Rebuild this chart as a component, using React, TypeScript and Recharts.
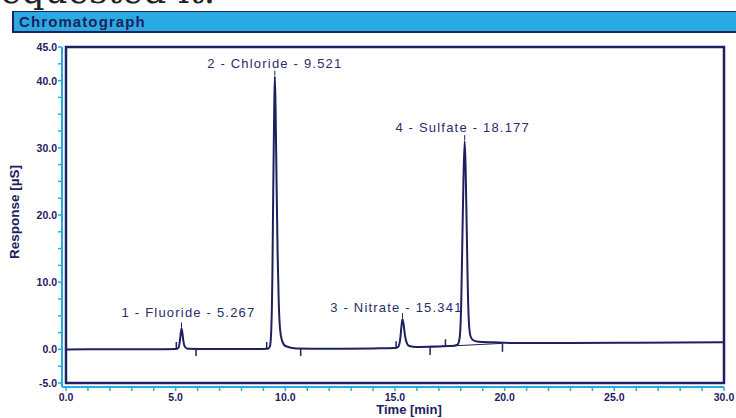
import {
  LineChart, Line, XAxis, YAxis, ReferenceArea, ReferenceLine, ReferenceDot,
} from 'recharts';

// chromatogram trace: [time min, response µS]
const TRACE: [number, number][] = [
  [0, 0], [2, 0.02], [4.5, 0.03], [5.0, 0.05], [5.12, 0.2], [5.19, 1.2], [5.24, 2.6],
  [5.267, 3.1], [5.3, 2.6], [5.35, 1.3], [5.42, 0.4], [5.55, 0.1], [6.5, 0.05],
  [8.5, 0.05], [9.2, 0.08], [9.3, 0.5], [9.36, 3], [9.41, 11], [9.45, 24], [9.49, 35],
  [9.521, 40.6], [9.555, 36], [9.6, 25], [9.65, 14], [9.7, 7], [9.76, 3], [9.85, 1.3],
  [10.0, 0.5], [10.5, 0.15], [12, 0.1], [14, 0.15], [15.0, 0.2], [15.15, 0.4],
  [15.24, 1.6], [15.3, 3.6], [15.341, 4.5], [15.39, 3.8], [15.45, 2.2], [15.53, 1.0],
  [15.65, 0.5], [16, 0.35], [17, 0.45], [17.7, 0.55], [17.85, 0.7], [17.95, 1.8],
  [18.02, 7], [18.07, 16], [18.12, 25], [18.177, 31], [18.22, 27], [18.27, 18],
  [18.32, 9], [18.37, 4], [18.44, 2], [18.55, 1.4], [18.8, 1.15], [19.5, 1.05],
  [20.5, 0.95], [23, 0.95], [26, 1.0], [30, 1.05],
];

const PEAKS = [
  { label: '1 - Fluoride - 5.267', t: 5.267, y: 3.1 },
  { label: '2 - Chloride - 9.521', t: 9.521, y: 40.6 },
  { label: '3 - Nitrate - 15.341', t: 15.341, y: 4.5 },
  { label: '4 - Sulfate - 18.177', t: 18.177, y: 31 },
];

// peak start / end markers on the baseline: [time, from, to]
const MARKS_UP: [number, number, number][] = [
  [5.03, 0.05, 1.1], [9.15, 0.05, 1.1], [15.05, 0.2, 1.2], [17.3, 0.5, 1.5],
];
const MARKS_DOWN: [number, number, number][] = [
  [5.93, 0.05, -1.0], [10.7, 0.1, -1.0], [16.6, 0.35, -0.85], [19.9, 0.9, -0.35],
];

const X_TICKS = [0, 1, 2, 3, 4, 5, 6, 7, 8, 9, 10, 11, 12, 13, 14, 15, 16, 17, 18, 19, 20,
  21, 22, 23, 24, 25, 26, 27, 28, 29, 30];
const X_LABELS = [0, 5, 10, 15, 20, 25, 30];
const Y_TICKS = [-5, -2.5, 0, 2.5, 5, 7.5, 10, 12.5, 15, 17.5, 20, 22.5, 25, 27.5, 30,
  32.5, 35, 37.5, 40, 42.5, 45];
const Y_LABELS = [-5, 0, 10, 20, 30, 40, 45];

const NAVY = '#1e2060';
const CYAN = '#29abe2';
const FONT = '"Liberation Sans", Arial, sans-serif';

const LABEL_SHIFT: Record<string, { dx: number; dy: number }> = {
  '1 - Fluoride - 5.267': { dx: 7, dy: -12 },
  '2 - Chloride - 9.521': { dx: 0, dy: -9 },
  '3 - Nitrate - 15.341': { dx: -6, dy: -7 },
  '4 - Sulfate - 18.177': { dx: -2, dy: -9 },
};

const data = TRACE.map(([t, y]) => ({ t, y }));

const XTick = ({ x, y, payload }: any) => {
  if (!X_LABELS.includes(payload.value)) return <g />;
  return (
    <text x={x} y={y + 8} textAnchor="middle" fill={NAVY} fontSize={10.5} fontWeight="bold" fontFamily={FONT}>
      {payload.value.toFixed(1)}
    </text>
  );
};

const YTick = ({ x, y, payload }: any) => {
  if (!Y_LABELS.includes(payload.value)) return <g />;
  return (
    <text x={x + 1} y={y + 4} textAnchor="end" fill={NAVY} fontSize={10.5} fontWeight="bold" fontFamily={FONT}>
      {payload.value.toFixed(1)}
    </text>
  );
};

const PeakLabel = ({ cx, cy, text }: any) => {
  const s = LABEL_SHIFT[text] || { dx: 0, dy: -9 };
  return (
    <g>
      <line x1={cx} x2={cx} y1={cy - 6} y2={cy - 1} stroke={NAVY} strokeWidth={1} />
      <text x={cx + s.dx} y={cy + s.dy} textAnchor="middle" fill="#2a2d6c" fontSize={13}
        letterSpacing={1.2} fontFamily={FONT}>
        {text}
      </text>
    </g>
  );
};

export default function App() {
  return (
    <div style={{ position: 'relative', width: 736, height: 418, overflow: 'hidden', background: '#fff' }}>
      <style>{'body{margin:0}'}</style>
      <div style={{
        position: 'absolute', left: -17, top: -27, fontFamily: '"DejaVu Serif", serif',
        fontSize: 36, lineHeight: 1, color: '#222', whiteSpace: 'nowrap',
      }}>
        requested it.
      </div>
      <div style={{
        position: 'absolute', left: 12, top: 11, width: 740, height: 19, background: CYAN,
        borderTop: `1.5px solid ${NAVY}`, borderBottom: `2px solid ${NAVY}`, borderLeft: `2px solid ${NAVY}`,
        fontFamily: FONT, fontWeight: 'bold', fontSize: 15, letterSpacing: 1.1, color: NAVY,
        lineHeight: '19px', paddingLeft: 5, boxSizing: 'content-box',
      }}>
        Chromatograph
      </div>
      <div style={{ position: 'absolute', left: 0, top: 0 }}>
        <LineChart width={736} height={418} data={data} margin={{ top: 47, right: 12, bottom: 1, left: 0 }}>
          <XAxis dataKey="t" type="number" domain={[-0.182, 30]} allowDataOverflow ticks={X_TICKS}
            interval={0} height={30} tickSize={4} axisLine={{ stroke: CYAN, strokeWidth: 2 }}
            tickLine={{ stroke: CYAN, strokeWidth: 1.5 }} tick={<XTick />} />
          <YAxis type="number" domain={[-5.595, 45]} allowDataOverflow ticks={Y_TICKS} interval={0}
            width={62} tickSize={4} axisLine={{ stroke: CYAN, strokeWidth: 2 }}
            tickLine={{ stroke: CYAN, strokeWidth: 1.5 }} tick={<YTick />} />
          <ReferenceArea x1={0} x2={30} y1={-5} y2={45} fill="none" stroke={NAVY} strokeWidth={2.5} />
          {MARKS_UP.map(([t, a, b]) => (
            <ReferenceLine key={'u' + t} segment={[{ x: t, y: a }, { x: t, y: b }]} stroke={NAVY} strokeWidth={1.5} />
          ))}
          {MARKS_DOWN.map(([t, a, b]) => (
            <ReferenceLine key={'d' + t} segment={[{ x: t, y: a }, { x: t, y: b }]} stroke={NAVY} strokeWidth={1.5} />
          ))}
          <ReferenceLine segment={[{ x: 16.6, y: 0.35 }, { x: 19.9, y: 0.9 }]} stroke={NAVY} strokeWidth={1} />
          <Line type="monotone" dataKey="y" stroke={NAVY} strokeWidth={2} dot={false} isAnimationActive={false} />
          {PEAKS.map((p) => (
            <ReferenceDot key={p.label} x={p.t} y={p.y} r={0}
              shape={(props: any) => <PeakLabel {...props} text={p.label} />} />
          ))}
        </LineChart>
      </div>
      <div style={{
        position: 'absolute', left: 15, top: 212, width: 0, height: 0,
      }}>
        <div style={{
          position: 'absolute', transform: 'translate(-50%, -50%) rotate(-90deg)', whiteSpace: 'nowrap',
          fontFamily: FONT, fontWeight: 'bold', fontSize: 13.5, color: NAVY, lineHeight: 1,
        }}>
          Response [µS]
        </div>
      </div>
      <div style={{
        position: 'absolute', left: 409, top: 403, transform: 'translateX(-50%)', whiteSpace: 'nowrap',
        fontFamily: FONT, fontWeight: 'bold', fontSize: 13, color: NAVY, lineHeight: 1,
      }}>
        Time [min]
      </div>
    </div>
  );
}
